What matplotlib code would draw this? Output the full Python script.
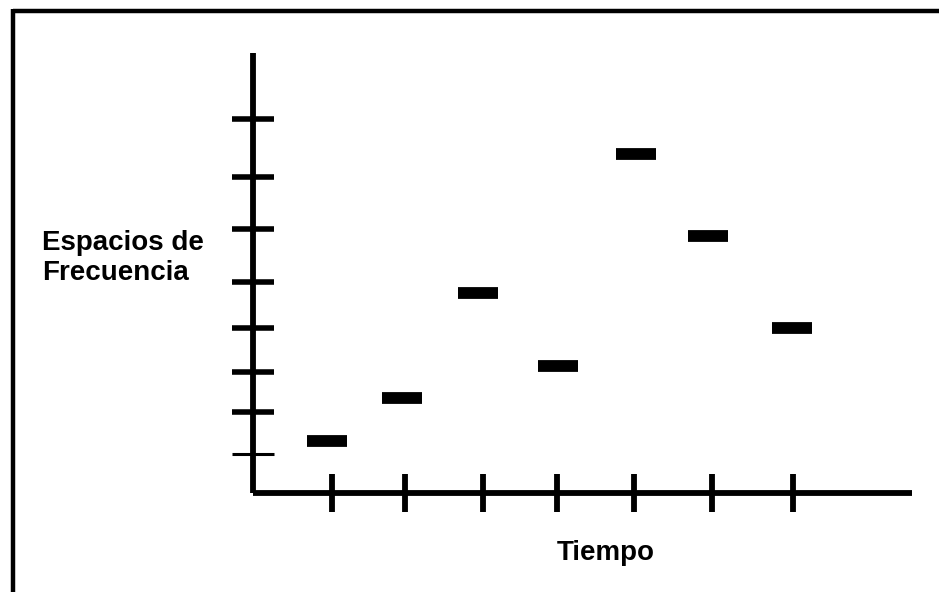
import matplotlib.pyplot as plt
from matplotlib.lines import Line2D

# valores (unidades arbitrarias)
tiempo_ticks = [1.0, 1.95, 2.97, 3.93, 4.93, 5.95, 7.0]
frec_ticks = [0.89, 1.84, 2.75, 3.75, 4.80, 6.00, 7.18, 8.50]
salto_t = [0.93, 1.91, 2.90, 3.94, 4.96, 5.90, 6.99]
salto_f = [1.18, 2.16, 4.55, 2.89, 7.70, 5.84, 3.75]
ancho = 0.52

W, H = 939, 592
fig = plt.figure(figsize=(W / 100, H / 100), dpi=100)
fig.patch.set_facecolor('white')

ax = fig.add_axes([253 / W, 1 - 493 / H, (912 - 253) / W, (493 - 53) / H])
ax.set_xlim(-0.028, 8.549)
ax.set_ylim(0, 10)

# saltos de frecuencia
ax.hlines(salto_f, [t - ancho / 2 for t in salto_t], [t + ancho / 2 for t in salto_t],
          colors='black', linewidth=8.5, capstyle='butt')

for s in ['top', 'right']:
    ax.spines[s].set_visible(False)
for s in ['left', 'bottom']:
    ax.spines[s].set_linewidth(4.2)
    ax.spines[s].set_capstyle('butt')

ax.set_xticks(tiempo_ticks)
ax.set_yticks(frec_ticks)
ax.set_xticklabels([])
ax.set_yticklabels([])
ax.tick_params(axis='x', direction='inout', length=27, width=4.2, color='black')
ax.tick_params(axis='y', direction='inout', length=30, width=4.0, color='black')
ax.yaxis.get_major_ticks()[0].tick1line.set_markeredgewidth(2.2)

# textos
fig.text(42 / W, 1 - 257.5 / H, 'Espacios de\nFrecuencia', family='Liberation Sans',
         fontweight='bold', fontsize=20, ha='left', va='center', linespacing=1.2)
fig.text(606 / W, 1 - 553 / H, 'Tiempo', family='Liberation Sans',
         fontweight='bold', fontsize=20, ha='center', va='center')

# marco (solo arriba e izquierda visibles)
fig.add_artist(Line2D([12.5 / W, 1], [1 - 11 / H, 1 - 11 / H], color='black', lw=3.2,
                      transform=fig.transFigure, solid_capstyle='butt'))
fig.add_artist(Line2D([12.5 / W, 12.5 / W], [0, 1 - 9 / H], color='black', lw=3.2,
                      transform=fig.transFigure, solid_capstyle='butt'))

fig.savefig('out.png', dpi=100)
